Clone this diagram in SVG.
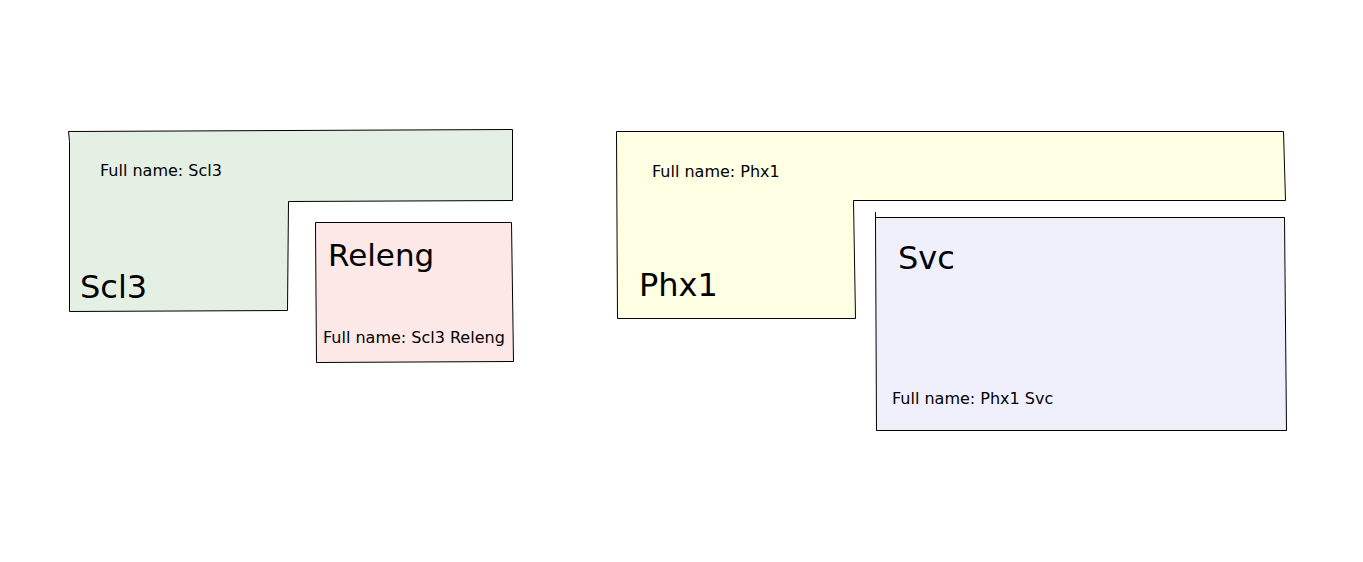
<svg xmlns="http://www.w3.org/2000/svg" width="1363" height="562" viewBox="0 0 1363 562">
<style>
.shape{stroke:#000;stroke-width:1;stroke-linejoin:miter}
.small{font-family:"DejaVu Sans",sans-serif;font-size:16px;fill:#000}
.big{font-family:"DejaVu Sans",sans-serif;font-size:32px;fill:#000}
</style>
<rect width="1363" height="562" fill="#fff"/>
<g id="scl3">
<path class="shape" fill="#e5f0e5" d="M68.5,131.5 L512.5,129.5 L512.5,200.5 L288.5,201.5 L287.5,310.5 L69.5,311.5 L69.5,141.5 Z"/>
<text class="small" x="100" y="176">Full name: Scl3</text>
<text class="big" x="80" y="298">Scl3</text>
</g>
<g id="releng">
<path class="shape" fill="#fde8e8" d="M315.5,222.5 L511.5,222.5 L513.5,361.5 L316.5,362.5 L315.5,225.5"/>
<path class="shape" fill="none" d="M315.5,222.5 L315.5,228"/>
<text class="big" x="328" y="266" style="font-size:31px">Releng</text>
<text class="small" x="323" y="343">Full name: Scl3 Releng</text>
</g>
<g id="phx1">
<path class="shape" fill="#ffffe4" d="M616.5,131.5 L1283.5,131.5 L1285.5,200.5 L853.5,200.5 L855.5,318.5 L617.5,318.5 Z"/>
<text class="small" x="652" y="177">Full name: Phx1</text>
<text class="big" x="639" y="296">Phx1</text>
</g>
<g id="svc">
<path class="shape" fill="#f0f0fc" d="M875.5,217.5 L1284.5,217.5 L1286.5,430.5 L876.5,430.5 Z"/>
<path class="shape" fill="none" d="M875.5,212 L875.5,218"/>
<text class="big" x="898" y="269">Svc</text>
<text class="small" x="892" y="404">Full name: Phx1 Svc</text>
</g>
<g id="connectors"></g>
</svg>
